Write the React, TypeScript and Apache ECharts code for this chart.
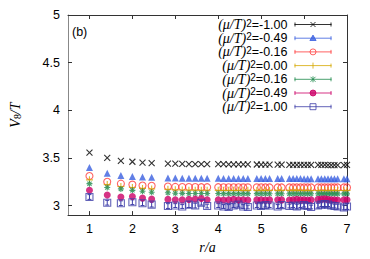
import React, { useEffect, useRef } from 'react';
import * as echarts from 'echarts';

// lattice distances r/a
const rValues = [
  1, 1.414, 1.732, 2, 2.236, 2.449, 2.828, 3, 3.162, 3.317, 3.464, 3.606, 3.742,
  4, 4.123, 4.243, 4.359, 4.472, 4.583, 4.69, 4.899, 5, 5.099, 5.196, 5.385, 5.477,
  5.657, 5.745, 5.831, 5.916, 6, 6.083, 6.164, 6.325, 6.403, 6.481, 6.557, 6.633,
  6.708, 6.782, 6.928, 7,
];

const muLabels = ['-1.00', '-0.49', '-0.16', '0.00', '0.16', '0.49', '1.00'];

const vMuM100 = [
  3.555, 3.5, 3.47, 3.46, 3.45, 3.445, 3.44, 3.44, 3.437, 3.436, 3.436, 3.435, 3.435,
  3.434, 3.434, 3.433, 3.433, 3.433, 3.432, 3.432, 3.431, 3.43, 3.43, 3.43, 3.429, 3.429,
  3.428, 3.428, 3.428, 3.427, 3.427, 3.427, 3.426, 3.426, 3.426, 3.426, 3.425, 3.425,
  3.425, 3.425, 3.425, 3.428,
];
const vMuM049 = [
  3.4, 3.34, 3.315, 3.305, 3.3, 3.297, 3.29, 3.29, 3.288, 3.288, 3.287, 3.287, 3.286,
  3.286, 3.285, 3.285, 3.285, 3.285, 3.285, 3.284, 3.284, 3.284, 3.284, 3.284, 3.283, 3.283,
  3.283, 3.283, 3.283, 3.283, 3.282, 3.282, 3.282, 3.282, 3.282, 3.282, 3.282, 3.282,
  3.282, 3.282, 3.281, 3.282,
];
const vMuM016 = [
  3.31, 3.25, 3.23, 3.22, 3.21, 3.207, 3.2, 3.196, 3.195, 3.194, 3.194, 3.193, 3.193,
  3.193, 3.192, 3.192, 3.192, 3.192, 3.191, 3.191, 3.191, 3.191, 3.19, 3.19, 3.19, 3.19,
  3.19, 3.19, 3.19, 3.19, 3.19, 3.19, 3.19, 3.19, 3.19, 3.19, 3.19, 3.19,
  3.19, 3.19, 3.19, 3.19,
];
const vMu000 = [
  3.27, 3.22, 3.2, 3.19, 3.18, 3.175, 3.17, 3.165, 3.163, 3.162, 3.162, 3.161, 3.161,
  3.16, 3.16, 3.16, 3.16, 3.16, 3.16, 3.16, 3.159, 3.159, 3.159, 3.159, 3.159, 3.159,
  3.159, 3.159, 3.159, 3.159, 3.158, 3.158, 3.158, 3.158, 3.158, 3.158, 3.158, 3.158,
  3.158, 3.158, 3.158, 3.158,
];
const vMu016 = [
  3.23, 3.19, 3.175, 3.16, 3.15, 3.14, 3.135, 3.13, 3.128, 3.127, 3.127, 3.126, 3.126,
  3.126, 3.125, 3.125, 3.125, 3.125, 3.125, 3.125, 3.125, 3.124, 3.124, 3.124, 3.124, 3.124,
  3.124, 3.124, 3.124, 3.124, 3.124, 3.124, 3.124, 3.124, 3.123, 3.123, 3.123, 3.123,
  3.123, 3.123, 3.123, 3.123,
];
const vMu049 = [
  3.16, 3.11, 3.09, 3.095, 3.08, 3.068, 3.065, 3.062, 3.06, 3.065, 3.068, 3.075, 3.062,
  3.062, 3.058, 3.06, 3.065, 3.06, 3.062, 3.058, 3.06, 3.062, 3.058, 3.06, 3.062, 3.06,
  3.058, 3.062, 3.065, 3.06, 3.062, 3.058, 3.06, 3.065, 3.068, 3.07, 3.066, 3.062,
  3.06, 3.058, 3.06, 3.062,
];
const vMu100 = [
  3.09, 3.03, 3.025, 3.035, 3.025, 3.01, 2.995, 3.0, 2.99, 3.01, 3.0, 3.03, 2.995,
  3.0, 2.99, 2.985, 3.0, 3.01, 2.99, 2.985, 3.0, 2.995, 3.005, 3.0, 2.99, 3.005,
  2.995, 3.0, 2.99, 3.0, 3.005, 2.995, 2.985, 3.0, 3.01, 3.015, 3.01, 3.0,
  2.995, 2.99, 2.98, 2.99,
];
const errMu100 = [
  0.025, 0.025, 0.025, 0.025, 0.025, 0.025, 0.025, 0.02, 0.02, 0.03, 0.025, 0.025, 0.02,
  0.02, 0.02, 0.025, 0.02, 0.025, 0.02, 0.02, 0.02, 0.025, 0.02, 0.02, 0.02, 0.025,
  0.02, 0.02, 0.025, 0.02, 0.02, 0.025, 0.02, 0.025, 0.02, 0.025, 0.02, 0.025,
  0.02, 0.025, 0.025, 0.03,
];

const xTicks = [1, 2, 3, 4, 5, 6, 7];
const yTicks = [3, 3.5, 4, 4.5, 5];

const seriesValues = [vMuM100, vMuM049, vMuM016, vMu000, vMu016, vMu049, vMu100];
const colors = ['#000000', '#3a5fe0', '#ff3b3b', '#d4a800', '#1e8a4c', '#cc0066', '#3c3ca8'];

const symX = 'path://M0,0L6,6M6,0L0,6';
const symPlus = 'path://M3,0L3,6M0,3L6,3';
const symStar = 'path://M3,0L3,6M0,3L6,3M0.9,0.9L5.1,5.1M5.1,0.9L0.9,5.1';

const markerDefs = [
  { symbol: symX, size: 6, filled: false },
  { symbol: 'triangle', size: 7, filled: true },
  { symbol: 'circle', size: 7, filled: false },
  { symbol: symPlus, size: 7, filled: false },
  { symbol: symStar, size: 6, filled: false },
  { symbol: 'circle', size: 7, filled: true },
  { symbol: 'rect', size: 7, filled: false },
];

const legendBase = 'M0,0M37,8M0,4L37,4M0.5,2L0.5,6M36.5,2L36.5,6';
const legendMarks = [
  'M16,1.5L21,6.5M21,1.5L16,6.5',
  'M18.5,0.9L21.6,6.3L15.4,6.3Z',
  'M21.5,4A3,3 0 1 1 15.5,4A3,3 0 1 1 21.5,4Z',
  'M18.5,1L18.5,7',
  'M18.5,1L18.5,7M16,1.5L21,6.5M21,1.5L16,6.5',
  'M21.5,4A3,3 0 1 1 15.5,4A3,3 0 1 1 21.5,4Z',
  'M15.5,1L21.5,1L21.5,7L15.5,7Z',
];

const seriesNames = muLabels.map((m) => `(μ/T)²=${m}`);

export default function App() {
  const ref = useRef<HTMLDivElement>(null);
  useEffect(() => {
    document.body.style.margin = '0';
    if (!ref.current) return;
    const chart = echarts.init(ref.current, undefined, { renderer: 'svg' });

    const scatterSeries = seriesValues.map((vals, i) => {
      const c = colors[i];
      const def = markerDefs[i];
      return {
        type: 'scatter',
        name: seriesNames[i],
        xAxisIndex: 0,
        yAxisIndex: 0,
        symbol: def.symbol,
        symbolSize: def.size,
        data: vals.map((v, k) => [rValues[k], v]),
        itemStyle: def.filled
          ? { color: c, borderWidth: 0 }
          : { color: 'transparent', borderColor: c, borderWidth: 1.1 },
        emphasis: { disabled: true },
        z: 3 + i,
      };
    });

    const errSeries = {
      type: 'custom',
      xAxisIndex: 0,
      yAxisIndex: 0,
      data: vMu100.map((v, k) => [rValues[k], v - errMu100[k], v + errMu100[k]]),
      encode: { x: 0, y: [1, 2] },
      silent: true,
      z: 2,
      renderItem: (params: any, api: any) => {
        const x = api.value(0);
        const p1 = api.coord([x, api.value(1)]);
        const p2 = api.coord([x, api.value(2)]);
        const w = 2;
        const st = { stroke: colors[6], lineWidth: 1 };
        return {
          type: 'group',
          children: [
            { type: 'line', shape: { x1: p1[0], y1: p1[1], x2: p2[0], y2: p2[1] }, style: st },
            { type: 'line', shape: { x1: p1[0] - w, y1: p1[1], x2: p1[0] + w, y2: p1[1] }, style: st },
            { type: 'line', shape: { x1: p2[0] - w, y1: p2[1], x2: p2[0] + w, y2: p2[1] }, style: st },
          ],
        };
      },
    };

    const tickFont = { fontFamily: 'Liberation Sans', fontSize: 12.5, color: '#000' };

    chart.setOption({
      animation: false,
      backgroundColor: '#ffffff',
      grid: { left: 63, right: 23, top: 15, bottom: 42, containLabel: false },
      xAxis: [
        {
          type: 'value',
          position: 'bottom',
          min: 0.5,
          max: 7,
          name: 'r/a',
          nameLocation: 'middle',
          nameGap: 16,
          nameTextStyle: { fontFamily: 'Liberation Serif', fontStyle: 'italic', fontSize: 14, color: '#000' },
          axisLine: { lineStyle: { color: '#333', width: 1 } },
          axisTick: { inside: true, length: 4, customValues: xTicks, lineStyle: { color: '#333' } },
          axisLabel: { customValues: xTicks, margin: 7, ...tickFont },
          splitLine: { show: false },
        },
        {
          type: 'value',
          position: 'top',
          min: 0.5,
          max: 7,
          axisLine: { lineStyle: { color: '#333', width: 1 } },
          axisTick: { inside: true, length: 4, customValues: xTicks, lineStyle: { color: '#333' } },
          axisLabel: { show: false },
          splitLine: { show: false },
        },
      ],
      yAxis: [
        {
          type: 'value',
          position: 'left',
          min: 2.9,
          max: 5,
          name: '{v|V}{s|8}{v|/T}',
          nameLocation: 'middle',
          nameGap: 46,
          nameRotate: 90,
          nameTextStyle: {
            rich: {
              v: { fontFamily: 'Liberation Serif', fontStyle: 'italic', fontSize: 14, lineHeight: 14, color: '#000' },
              s: { fontFamily: 'Liberation Serif', fontSize: 10, lineHeight: 6, verticalAlign: 'bottom', color: '#000' },
            },
          },
          axisLine: { lineStyle: { color: '#888', width: 1 } },
          axisTick: { inside: true, length: 4, customValues: yTicks, lineStyle: { color: '#333' } },
          axisLabel: { customValues: yTicks, margin: 8, ...tickFont },
          splitLine: { show: false },
        },
        {
          type: 'value',
          position: 'right',
          min: 2.9,
          max: 5,
          axisLine: { lineStyle: { color: '#333', width: 1 } },
          axisTick: { inside: true, length: 4, customValues: yTicks, lineStyle: { color: '#333' } },
          axisLabel: { show: false },
          splitLine: { show: false },
        },
      ],
      legend: {
        orient: 'vertical',
        right: 38,
        top: 17.5,
        padding: 0,
        itemGap: -0.3,
        itemWidth: 37,
        itemHeight: 8,
        align: 'right',
        selectedMode: false,
        data: seriesNames.map((n, i) => ({
          name: n,
          icon: 'path://' + legendBase + legendMarks[i],
          itemStyle: markerDefs[i].filled
            ? { color: colors[i], borderColor: colors[i], borderWidth: 1 }
            : { color: 'transparent', borderColor: colors[i], borderWidth: 1 },
        })),
        formatter: (name: string) => {
          const v = name.split('=')[1];
          return `{a|(μ/T)}{s|2}{b|=${v}}`;
        },
        textStyle: {
          rich: {
            a: { fontFamily: 'Liberation Serif', fontStyle: 'italic', fontSize: 14, lineHeight: 13, color: '#000' },
            s: { fontFamily: 'Liberation Sans', fontSize: 10, lineHeight: 1, verticalAlign: 'top', color: '#000' },
            b: { fontFamily: 'Liberation Sans', fontSize: 12.5, lineHeight: 13, color: '#000', padding: [0, 2, 0, 0] },
          },
        },
      },
      graphic: [
        {
          type: 'text',
          left: 72,
          top: 25,
          style: { text: '(b)', font: '12.5px "Liberation Sans"', fill: '#000' },
        },
      ],
      series: [errSeries, ...scatterSeries],
    });
    return () => chart.dispose();
  }, []);
  return <div ref={ref} style={{ width: 370, height: 259, background: '#fff' }} />;
}
